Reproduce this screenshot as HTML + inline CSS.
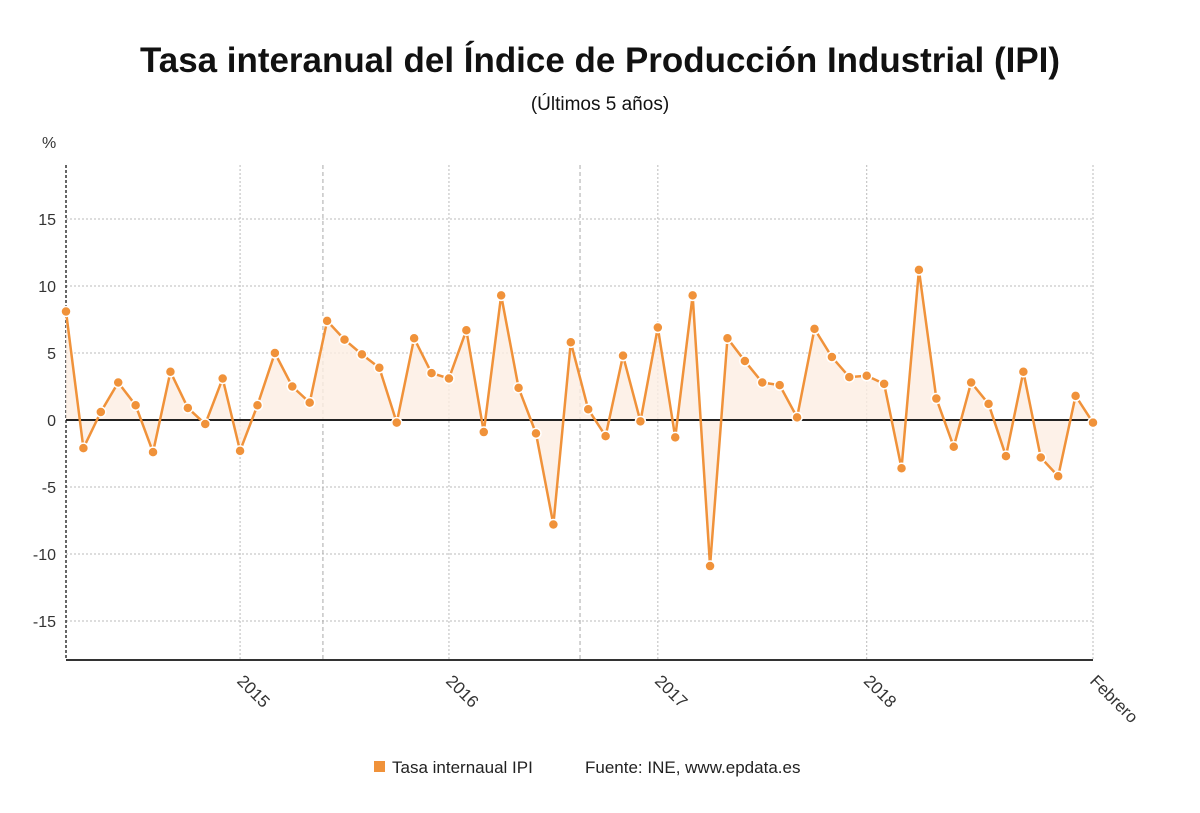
<!DOCTYPE html>
<html><head><meta charset="utf-8"><style>
body{margin:0;background:#fff;font-family:"Liberation Sans",sans-serif;}
</style></head><body>
<svg width="1200" height="808" xmlns="http://www.w3.org/2000/svg">
<text x="600" y="72" text-anchor="middle" font-size="35" font-weight="bold" fill="#111" textLength="920" lengthAdjust="spacingAndGlyphs">Tasa interanual del Índice de Producción Industrial (IPI)</text>
<text x="600" y="110" text-anchor="middle" font-size="19" fill="#111">(Últimos 5 años)</text>
<text x="42" y="148" font-size="16" fill="#333">%</text>
<g id="grid"></g>
<g id="marks"></g>
<g id="legend">
<rect x="374" y="761" width="11" height="11" fill="#f0923a"/>
<text x="392" y="773" font-size="17" fill="#222">Tasa internaual IPI</text>
<text x="585" y="773" font-size="17" fill="#222">Fuente: INE, www.epdata.es</text>
</g>
</svg>
<script>
const values=[8.1,-2.1,0.6,2.8,1.1,-2.4,3.6,0.9,-0.3,3.1,-2.3,1.1,5.0,2.5,1.3,7.4,6.0,4.9,3.9,-0.2,6.1,3.5,3.1,6.7,-0.9,9.3,2.4,-1.0,-7.8,5.8,0.8,-1.2,4.8,-0.1,6.9,-1.3,9.3,-10.9,6.1,4.4,2.8,2.6,0.2,6.8,4.7,3.2,3.3,2.7,-3.6,11.2,1.6,-2.0,2.8,1.2,-2.7,3.6,-2.8,-4.2,1.8,-0.2];
const yTicks=[15,10,5,0,-5,-10,-15];
const xLabels=["2015","2016","2017","2018","Febrero"];
const xLabelIdx=[10,22,34,46,59];
const dividerIdx=[14.76,29.53];
const NS="http://www.w3.org/2000/svg";
const x=i=>66+i*(1093-66)/(values.length-1);
const y=v=>420-v*13.4;
const grid=document.getElementById('grid'),marks=document.getElementById('marks');
function mk(tag,attrs,parent){const e=document.createElementNS(NS,tag);for(const k in attrs)e.setAttribute(k,attrs[k]);parent.appendChild(e);return e;}
yTicks.forEach(t=>{
 if(t!==0){const l=mk('line',{x1:66,x2:1093,y1:y(t),y2:y(t),stroke:'#bbb','stroke-dasharray':'2,2'},grid);
 
 }
 const tx=mk('text',{x:56,y:y(t)+6,'text-anchor':'end','font-size':16,fill:'#333'},grid);tx.textContent=t;
 
 
});
xLabelIdx.forEach((idx,k)=>{
 const l=mk('line',{x1:x(idx),x2:x(idx),y1:165,y2:660,stroke:'#bbb','stroke-dasharray':'2,2'},grid);
 
 
 const tx=mk('text',{x:x(idx)-4,y:682,'font-size':17,fill:'#333',transform:`rotate(45 ${x(idx)-4} 682)`},grid);tx.textContent=xLabels[k];
 
 
});
dividerIdx.forEach(idx=>{const l=mk('line',{x1:x(idx),x2:x(idx),y1:165,y2:660,stroke:'#aaa','stroke-dasharray':'4,3'},grid);
 
 });
const ax=mk('line',{x1:66,x2:66,y1:165,y2:660,stroke:'#333','stroke-width':1.5,'stroke-dasharray':'3,2'},grid);


const bx=mk('line',{x1:66,x2:1093,y1:660,y2:660,stroke:'#333','stroke-width':2},grid);


let pts=values.map((v,i)=>x(i)+','+y(v)).join(' ');
const area=mk('polygon',{points:`${x(0)},${y(0)} ${pts} ${x(values.length-1)},${y(0)}`,fill:'#fdeee2',opacity:0.8},marks);


const zl=mk('line',{x1:66,x2:1093,y1:y(0),y2:y(0),stroke:'#222','stroke-width':2},marks);


const line=mk('polyline',{points:pts,fill:'none',stroke:'#f0923a','stroke-width':2.5},marks);


values.forEach((v,i)=>{const c=mk('circle',{cx:x(i),cy:y(v),r:5,fill:'#f0923a',stroke:'#fff','stroke-width':1.5},marks);
 
 });
</script>
</body></html>
